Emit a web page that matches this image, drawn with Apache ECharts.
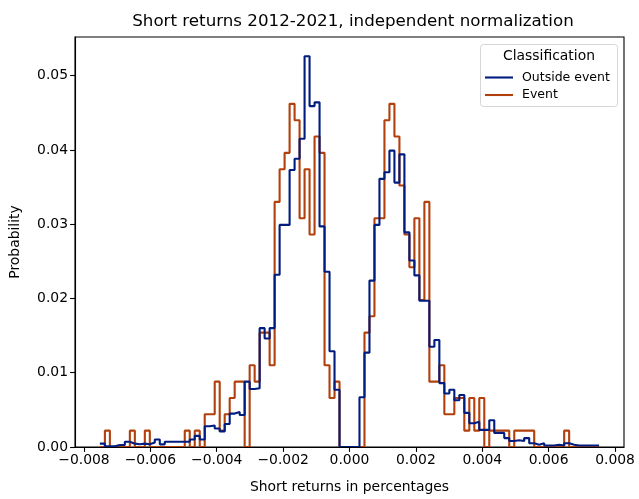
<!DOCTYPE html>
<html>
<head>
<meta charset="utf-8">
<script src="https://cdn.jsdelivr.net/npm/echarts@6/dist/echarts.min.js"></script>
<style>
  html, body { margin: 0; padding: 0; background: #ffffff; }
  #chart { width: 639px; height: 499px; }
</style>
</head>
<body>
<div id="chart"></div>
<script>
// Histogram bins: 100 equal-width bins spanning the observed returns
const binStart = -0.00752;
const binWidth = 0.0001504;
const binCount = 100;

// Share of returns per bin, outside event windows
const outsideEvent = [
  0.00045, 0.0001, 0.0001, 0.00027, 0.00027, 0.0007, 0.00045, 0.00036, 0.00045, 0.00036,
  0.0006, 0.001, 0.00036, 0.0007, 0.0007, 0.0007, 0.0007, 0.0007, 0.001, 0.0015,
  0.001, 0.0028, 0.0029, 0.0025, 0.0021, 0.0031, 0.0045, 0.0047, 0.0043, 0.0088,
  0.0078, 0.0079, 0.016, 0.0146, 0.016, 0.0232, 0.0299, 0.0299, 0.0373, 0.0388,
  0.0415, 0.0526, 0.0459, 0.0464, 0.0297, 0.0236, 0.0129, 0.0077, 0, 0,
  0, 0, 0.0067, 0.0127, 0.0224, 0.0299, 0.0361, 0.037, 0.0399, 0.0356,
  0.0394, 0.0289, 0.0251, 0.0231, 0.0197, 0.0197, 0.0135, 0.0144, 0.0086, 0.0072,
  0.0077, 0.0063, 0.0070, 0.0046, 0.0032, 0.0034, 0.0023, 0.0023, 0.0036, 0.0019,
  0.0019, 0.0012, 0.0008, 0.0009, 0.0008, 0.0012, 0.0005, 0.0003, 0.0005, 0.0002,
  0.0002, 0.0003, 0.0002, 0.0005, 0.0003, 0.0002, 0.0002, 0.0002, 0.0002, 0.0002
];

// Share of returns per bin, during events
const eventWindow = [
  0, 0.0022, 0, 0, 0, 0, 0.0022, 0, 0, 0.0022,
  0, 0, 0, 0, 0, 0, 0, 0.0022, 0, 0.0022,
  0, 0.0044, 0.0044, 0.0088, 0.0022, 0.0044, 0.0066, 0.0088, 0.0088, 0,
  0.0110, 0.0088, 0.0154, 0.0154, 0.0110, 0.0330, 0.0374, 0.0396, 0.0462, 0.0440,
  0.0308, 0.0374, 0.0286, 0.0418, 0.0396, 0.0110, 0.0066, 0.0088, 0, 0,
  0, 0, 0, 0.0154, 0.0176, 0.0308, 0.0308, 0.0440, 0.0462, 0.0418,
  0.0352, 0.0286, 0.0242, 0.0308, 0.0198, 0.0330, 0.0088, 0.0088, 0.0110, 0.0044,
  0.0044, 0.0066, 0.0066, 0.0022, 0.0066, 0.0022, 0.0066, 0, 0.0022, 0.0022,
  0.0022, 0.0022, 0, 0.0022, 0.0022, 0.0022, 0.0022, 0, 0, 0,
  0, 0, 0, 0.0022, 0, 0, 0, 0, 0, 0
];

const xTicks = [-0.008, -0.006, -0.004, -0.002, 0, 0.002, 0.004, 0.006, 0.008];
const yTicks = [0, 0.01, 0.02, 0.03, 0.04, 0.05];
const seriesNames = ['Outside event', 'Event'];
const legendTitle = 'Classification';

// Step outline: each bin's height is held from its left edge to the next edge
function stepPoints(values) {
  const pts = values.map((v, i) => [binStart + i * binWidth, v]);
  pts.push([binStart + binCount * binWidth, values[values.length - 1]]);
  return pts;
}

const fmtX = v => (Math.abs(v) < 1e-12 ? '0.000' : v.toFixed(3).replace('-', '\u2212'));
const fmtY = v => v.toFixed(2);

const font = 'DejaVu Sans';
const chart = echarts.init(document.getElementById('chart'), null, { renderer: 'canvas' });

const axisCommon = {
  axisLine: { show: true, onZero: false, lineStyle: { color: '#000', width: 1.1 } },
  splitLine: { show: false }
};

chart.setOption({
  backgroundColor: '#ffffff',
  animation: false,
  title: {
    text: 'Short returns 2012-2021, independent normalization',
    left: 348, top: 8, textAlign: 'center',
    textStyle: { fontFamily: font, fontSize: 16.7, fontWeight: 'normal', color: '#000' }
  },
  grid: {
    left: 72, right: 15, top: 37, bottom: 50, containLabel: false,
    show: true, borderColor: '#000', borderWidth: 1.1, backgroundColor: 'transparent'
  },
  xAxis: Object.assign({}, axisCommon, {
    type: 'value', min: -0.00827, max: 0.00827, z: 10,
    name: 'Short returns in percentages', nameLocation: 'middle', nameGap: 33,
    nameTextStyle: { fontFamily: font, fontSize: 13.9, color: '#000' },
    axisTick: { show: true, length: 4.9, lineStyle: { color: '#000', width: 1.1 }, customValues: xTicks },
    axisLabel: { fontFamily: font, fontSize: 13.9, color: '#000', margin: 6, customValues: xTicks, formatter: fmtX }
  }),
  yAxis: Object.assign({}, axisCommon, {
    type: 'value', min: 0, max: 0.0552, z: 10,
    name: 'Probability', nameLocation: 'middle', nameGap: 53,
    nameTextStyle: { fontFamily: font, fontSize: 13.9, color: '#000' },
    axisTick: { show: true, length: 4.9, lineStyle: { color: '#000', width: 1.1 }, customValues: yTicks },
    axisLabel: { fontFamily: font, fontSize: 13.9, color: '#000', margin: 7, customValues: yTicks, formatter: fmtY }
  }),
  legend: {
    data: seriesNames, z: 100,
    orient: 'vertical', left: 480, top: 66, itemGap: 4.5,
    icon: 'rect', itemWidth: 28, itemHeight: 2.1,
    textStyle: { fontFamily: font, fontSize: 12.5, color: '#000', padding: [0, 0, 0, 4] }
  },
  graphic: [
    {
      type: 'rect', z: 90,
      shape: { x: 480.5, y: 44.5, width: 137, height: 62, r: 3 },
      style: { fill: 'rgba(255,255,255,0.8)', stroke: '#d6d6d6', lineWidth: 1 }
    },
    {
      type: 'text', z: 91, x: 549, y: 56,
      style: { text: legendTitle, fill: '#000', font: '13.9px "DejaVu Sans"', textAlign: 'center', textVerticalAlign: 'middle' }
    }
  ],
  series: [
    {
      name: 'Event', type: 'line', step: 'end', data: stepPoints(eventWindow),
      showSymbol: false, symbol: 'none', z: 3,
      lineStyle: { color: '#b1400d', width: 2.1 }, itemStyle: { color: '#b1400d' }
    },
    {
      name: 'Outside event', type: 'line', step: 'end', data: stepPoints(outsideEvent),
      showSymbol: false, symbol: 'none', z: 4,
      lineStyle: { color: '#001c7f', width: 2.1 }, itemStyle: { color: '#001c7f' }
    }
  ]
});
</script>
</body>
</html>
